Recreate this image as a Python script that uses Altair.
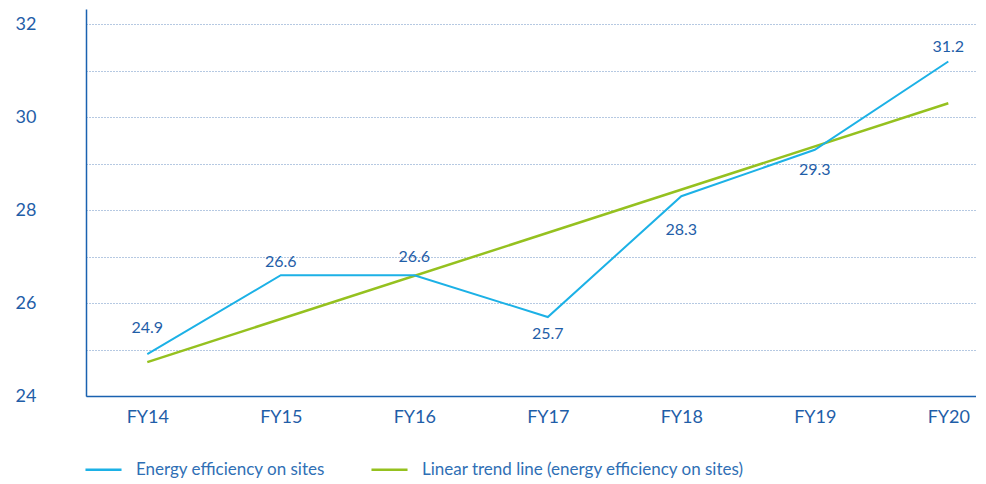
import json
import altair as alt
import pandas as pd

# ---- data ----
years = ["FY14", "FY15", "FY16", "FY17", "FY18", "FY19", "FY20"]
efficiency = [24.9, 26.6, 26.6, 25.7, 28.3, 29.3, 31.2]
series_names = ["Energy efficiency on sites", "Linear trend line (energy efficiency on sites)"]
label_dy = [-26, -13, -18, 17, 34, 20, -14]

BLUE = "#1cb1e6"
GREEN = "#95c11f"
TXT = "#1f5ea8"
AXIS = "#1a62b0"
GRID = "#6d92c4"
FONT = "Lato"

df = pd.DataFrame({
    "idx": list(range(len(years))),
    "year": years,
    "value": efficiency,
    "dy": label_dy,
})
df["series"] = series_names[0]

x_scale = alt.Scale(domain=[-0.4592, 6.2075], nice=False, zero=False)
y_scale = alt.Scale(domain=[24, 32.33], nice=False, zero=False)
color_scale = alt.Scale(domain=series_names, range=[BLUE, GREEN])

label_expr = json.dumps(years) + "[datum.value]"

x_enc = alt.X(
    "idx:Q", scale=x_scale, title=None,
    axis=alt.Axis(values=list(range(len(years))), labelExpr=label_expr, grid=False,
                  ticks=False, domainColor=AXIS, domainWidth=1.5, labelColor=TXT,
                  labelFontSize=18, labelFont=FONT, labelPadding=12),
)
y_enc = alt.Y(
    "value:Q", scale=y_scale, title=None,
    axis=alt.Axis(values=list(range(24, 33)),
                  labelExpr="datum.value % 2 == 0 ? datum.label : ''",
                  ticks=False, domainColor=AXIS, domainWidth=1.5, labelColor=TXT,
                  labelFontSize=18, labelFont=FONT, labelPadding=50,
                  grid=True, gridColor=GRID, gridDash=[1, 2], gridWidth=1),
)

color_enc = alt.Color(
    "series:N", scale=color_scale, title=None,
    legend=alt.Legend(orient="none", legendX=-2, legendY=441, direction="horizontal",
                      symbolType="stroke", symbolSize=1300, symbolStrokeWidth=2.5,
                      labelFontSize=17, labelFont=FONT, labelColor="#2f6fb5",
                      labelOffset=13, columnPadding=40, labelLimit=600),
)

base = alt.Chart(df)

line = base.mark_line(strokeWidth=2).encode(x=x_enc, y=y_enc, color=color_enc)

trend = base.transform_regression("idx", "value").transform_calculate(
    series="'" + series_names[1] + "'"
).mark_line(strokeWidth=2.5).encode(x="idx:Q", y="value:Q", color=color_enc)

labels = []
for d in sorted(set(label_dy)):
    labels.append(
        base.transform_filter(alt.datum.dy == d)
        .mark_text(dy=d, fontSize=16, font=FONT, color=TXT, baseline="middle")
        .encode(x="idx:Q", y="value:Q", text=alt.Text("value:Q", format=".1f"))
    )

chart = alt.layer(trend, line, *labels).properties(
    width=890, height=387,
    padding={"left": 7, "top": 1, "right": 0, "bottom": 0},
).configure_view(stroke=None)

chart.save("out.html", embed_options={"renderer": "svg", "actions": False})
